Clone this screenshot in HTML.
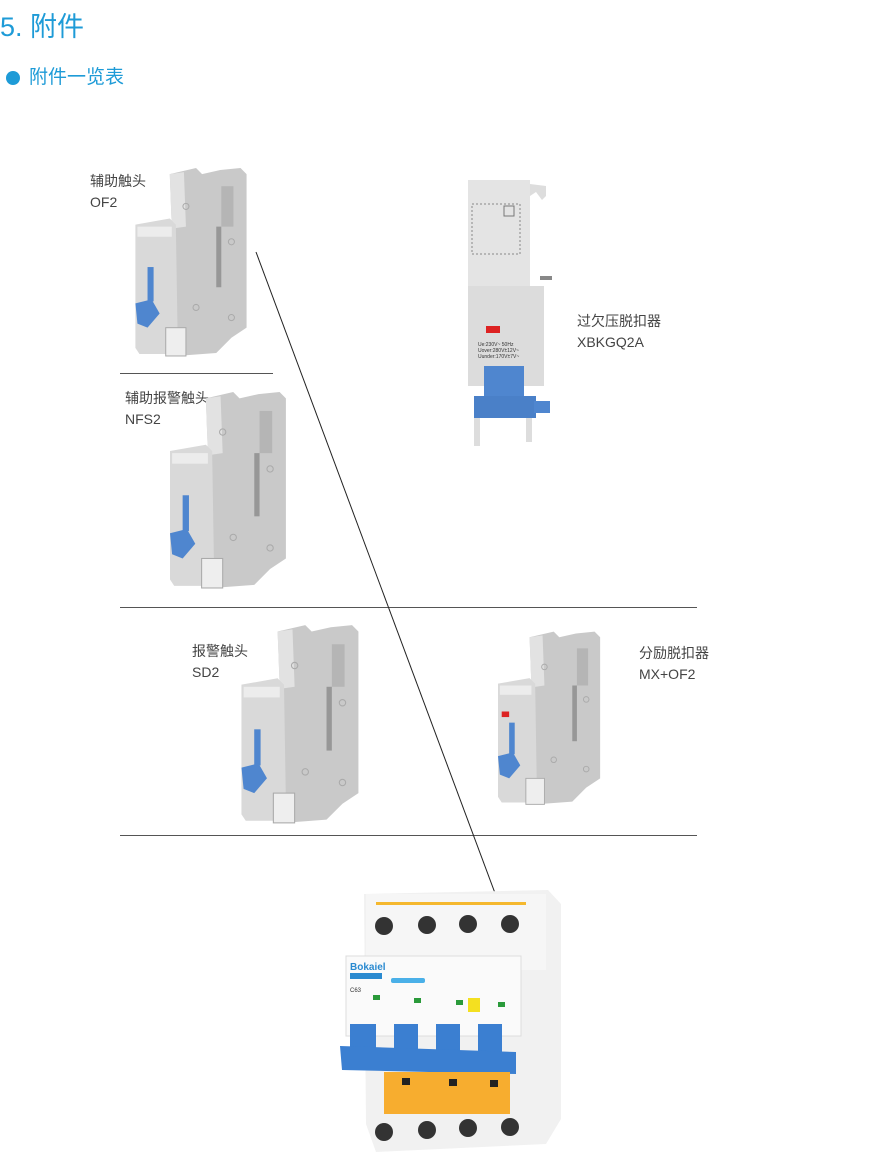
<!DOCTYPE html>
<html><head><meta charset="utf-8"><style>
body{margin:0;background:#fff;width:882px;height:1156px;position:relative;overflow:hidden;font-family:"Liberation Sans","Noto Sans CJK SC",sans-serif}
.a{position:absolute}
.lbl{position:absolute;font-size:14px;line-height:21px;color:#444}
.hl{position:absolute;height:1px;background:#555}
</style></head><body>
<div class="a" style="left:0;top:10px;font-size:27px;color:#1e9bd7;line-height:34px">5. 附件</div>
<div class="a" style="left:6px;top:71px;width:14px;height:14px;border-radius:50%;background:#1e9bd7"></div>
<div class="a" style="left:29px;top:66px;font-size:19px;color:#1e9bd7;line-height:24px">附件一览表</div>

<div class="lbl" style="left:90px;top:171px">辅助触头<br>OF2</div>
<div class="lbl" style="left:125px;top:388px">辅助报警触头<br>NFS2</div>
<div class="lbl" style="left:192px;top:641px">报警触头<br>SD2</div>
<div class="lbl" style="left:577px;top:311px">过欠压脱扣器<br>XBKGQ2A</div>
<div class="lbl" style="left:639px;top:643px">分励脱扣器<br>MX+OF2</div>

<div class="hl" style="left:120px;top:373px;width:153px"></div>
<div class="hl" style="left:120px;top:607px;width:577px"></div>
<div class="hl" style="left:120px;top:835px;width:577px"></div>

<svg class="a" style="left:0;top:0" width="882" height="1156">
<line x1="256" y1="252" x2="508" y2="928" stroke="#222" stroke-width="1"/>
</svg>

<!-- generic module -->
<svg class="a" style="left:135px;top:166px" width="114" height="192" viewBox="0 0 112 190">
<g id="m">
<polygon points="34,8 60,2 66,8 84,4 104,2 110,8 110,160 95,170 80,185 40,188 36,60" fill="#c9c9c9"/>
<polygon points="34,8 48,6 50,60 36,62" fill="#e2e2e2"/>
<polygon points="0,58 34,52 40,58 42,182 36,186 4,186 0,180" fill="#d9d9d9"/>
<rect x="2" y="60" width="34" height="10" fill="#ececec"/>
<rect x="85" y="20" width="12" height="40" fill="#b5b5b5"/>
<rect x="80" y="60" width="5" height="60" fill="#777" opacity=".6"/>
<circle cx="50" cy="40" r="3" fill="none" stroke="#aaa"/><circle cx="95" cy="75" r="3" fill="none" stroke="#aaa"/>
<circle cx="60" cy="140" r="3" fill="none" stroke="#aaa"/><circle cx="95" cy="150" r="3" fill="none" stroke="#aaa"/>
<rect x="12" y="100" width="6" height="34" fill="#4f86cf"/>
<polygon points="0,136 16,132 24,146 12,160 2,156" fill="#4f86cf"/>
<rect x="30" y="160" width="20" height="28" fill="#eee" stroke="#aaa"/>
</g></svg>
<svg class="a" style="left:170px;top:386px" width="118" height="208" viewBox="0 0 112 190"><use href="#m"/></svg>
<svg class="a" style="left:240px;top:623px" width="122" height="202" viewBox="0 0 112 190"><use href="#m"/></svg>
<svg class="a" style="left:498px;top:626px" width="104" height="184" viewBox="0 0 112 190"><use href="#m"/>
<rect x="4" y="88" width="8" height="6" fill="#d22"/></svg>

<!-- XBKGQ2A -->
<svg class="a" style="left:464px;top:176px" width="92" height="275" viewBox="0 0 92 275">
<rect x="4" y="4" width="62" height="120" fill="#e4e4e4"/>
<polygon points="66,8 82,10 82,20 78,24 72,16 66,20" fill="#ddd"/>
<rect x="8" y="28" width="48" height="50" fill="none" stroke="#888" stroke-dasharray="2,2"/>
<rect x="40" y="30" width="10" height="10" fill="none" stroke="#777"/>
<rect x="4" y="110" width="76" height="100" fill="#dcdcdc"/>
<rect x="76" y="100" width="12" height="4" fill="#888"/>
<rect x="22" y="150" width="14" height="7" fill="#d22"/>
<text x="14" y="170" font-size="5" fill="#333">Ue:230V~ 50Hz</text>
<text x="14" y="176" font-size="5" fill="#333">Uover:280V±12V~</text>
<text x="14" y="182" font-size="5" fill="#333">Uunder:170V±7V~</text>
<rect x="20" y="190" width="40" height="40" fill="#4f86cf"/>
<rect x="10" y="220" width="62" height="22" fill="#4a80c8"/>
<rect x="70" y="225" width="16" height="12" fill="#4f86cf"/>
<rect x="10" y="242" width="6" height="28" fill="#ddd"/><rect x="62" y="242" width="6" height="24" fill="#ddd"/>
</svg>

<!-- breaker -->
<svg class="a" style="left:336px;top:884px" width="230" height="272" viewBox="0 0 230 272">
<polygon points="28,10 212,6 225,20 225,235 210,260 40,268 30,240" fill="#f1f1f1"/>
<rect x="30" y="10" width="180" height="76" fill="#f6f6f6"/>
<rect x="40" y="18" width="150" height="3" fill="#f5b82e"/>
<g fill="#333"><circle cx="48" cy="42" r="9"/><circle cx="91" cy="41" r="9"/><circle cx="132" cy="40" r="9"/><circle cx="174" cy="40" r="9"/>
<circle cx="48" cy="248" r="9"/><circle cx="91" cy="246" r="9"/><circle cx="132" cy="244" r="9"/><circle cx="174" cy="243" r="9"/></g>
<rect x="10" y="72" width="175" height="80" fill="#fafafa" stroke="#ddd"/>
<text x="14" y="86" font-size="10" font-weight="bold" fill="#2a8ad0">Bokaiel</text>
<rect x="14" y="89" width="32" height="6" fill="#2a8ad0"/>
<rect x="55" y="94" width="34" height="5" rx="2" fill="#4ab0e8"/>
<text x="14" y="108" font-size="6" fill="#333">C63</text>
<g fill="#2a9a3a"><rect x="37" y="111" width="7" height="5"/><rect x="78" y="114" width="7" height="5"/><rect x="120" y="116" width="7" height="5"/><rect x="162" y="118" width="7" height="5"/></g>
<rect x="132" y="114" width="12" height="14" fill="#f4e020"/>
<g fill="#3b7fd1"><rect x="14" y="140" width="26" height="34"/><rect x="58" y="140" width="24" height="34"/><rect x="100" y="140" width="24" height="34"/><rect x="142" y="140" width="24" height="34"/></g>
<polygon points="4,162 180,168 180,190 6,186" fill="#3b7fd1"/>
<rect x="48" y="188" width="126" height="42" fill="#f7ad2f"/>
<g fill="#222"><rect x="66" y="194" width="8" height="7"/><rect x="113" y="195" width="8" height="7"/><rect x="154" y="196" width="8" height="7"/></g>
</svg>
</body></html>
